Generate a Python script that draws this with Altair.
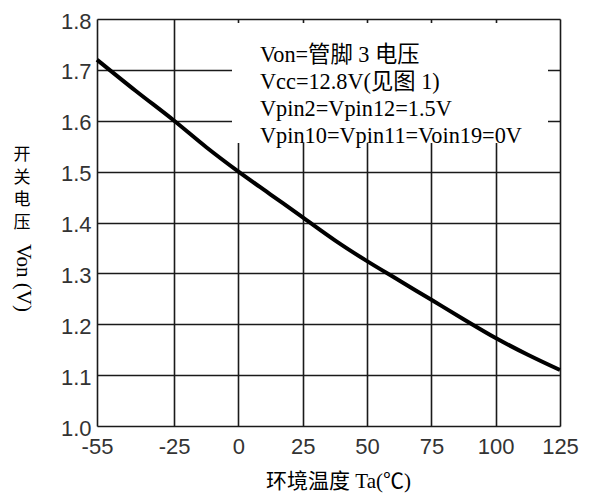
import altair as alt
import pandas as pd

# ---- data ----
temps = [-55, -40, -25, -12.5, 0, 12.5, 25, 37.5, 50, 62.5, 75, 87.5, 100, 112.5, 125]
von = [1.72, 1.659, 1.60, 1.548, 1.50, 1.455, 1.41, 1.365, 1.324, 1.286, 1.248, 1.21, 1.173, 1.14, 1.11]
x_ticks = [-55, -25, 0, 25, 50, 75, 100, 125]
y_ticks = [1.0, 1.1, 1.2, 1.3, 1.4, 1.5, 1.6, 1.7, 1.8]
note_lines = ["Von=管脚 3 电压", "Vcc=12.8V(见图 1)", "Vpin2=Vpin12=1.5V", "Vpin10=Vpin11=Voin19=0V"]
x_title = "环境温度 Ta(℃)"
y_title_cjk = ["开", "关", "电", "压"]
y_title_latin = "Von (V)"

SERIF = "Liberation Serif, 'Noto Sans CJK SC'"
SANS = "Liberation Sans, Arial"

df = pd.DataFrame({"t": temps, "v": von})
one = pd.DataFrame({"k": [0]})

x_enc = alt.X(
    "t:Q",
    scale=alt.Scale(domain=[-55, 125], nice=False, zero=False),
    axis=alt.Axis(
        values=x_ticks, grid=True, gridColor="#1a1a1a", gridWidth=1.6, gridOpacity=1,
        domain=False, ticks=False, labelFont=SANS, labelFontSize=22, labelColor="#333",
        labelPadding=10, labelFlush=False, labelExpr="'' + datum.value",
        title=x_title, titleFont=SERIF, titleFontSize=21, titleFontWeight="normal",
        titleColor="black", titleX=241, titleY=61, titleBaseline="alphabetic", titleAlign="center",
    ),
)
y_enc = alt.Y(
    "v:Q",
    scale=alt.Scale(domain=[1.0, 1.8], nice=False, zero=False),
    axis=alt.Axis(
        values=y_ticks, format=".1f", grid=True, gridColor="#1a1a1a", gridWidth=1.6, gridOpacity=1,
        domain=False, ticks=False, labelFont=SANS, labelFontSize=22, labelColor="#333",
        labelPadding=6, labelFlush=False, labelOffset=2, title=None,
    ),
)

axes_layer = alt.Chart(df).mark_point(opacity=0).encode(x=x_enc, y=y_enc)

mask = alt.Chart(one).mark_rect(fill="white", stroke=None).encode(
    x=alt.value(135), x2=alt.value(451), y=alt.value(4), y2=alt.value(124)
)

curve = alt.Chart(df).mark_line(color="black", strokeWidth=4, interpolate="monotone").encode(
    x="t:Q", y="v:Q"
)

note = alt.Chart(one).mark_text(
    text=note_lines, font=SERIF, fontSize=22.3, color="black", align="left",
    baseline="alphabetic", lineHeight=27.3,
).encode(x=alt.value(163), y=alt.value(42.5))

ytitle_cjk = alt.Chart(one).mark_text(
    text=y_title_cjk, font=SERIF, fontSize=17, color="black", align="center",
    baseline="top", lineHeight=22.5,
).encode(x=alt.value(-75), y=alt.value(128))

ytitle_lat = alt.Chart(one).mark_text(
    text=y_title_latin, font=SERIF, fontSize=21, color="black", align="center",
    baseline="middle", angle=90,
).encode(x=alt.value(-74), y=alt.value(259))

chart = alt.layer(axes_layer, mask, curve, note, ytitle_cjk, ytitle_lat).properties(
    width=463, height=407,
    autosize=alt.AutoSizeParams(type="none"),
    padding={"left": 89, "top": 11, "right": 20, "bottom": 70},
).configure_view(stroke="black", strokeWidth=2).configure(background="white")

chart.save("out.html", embed_options={"renderer": "svg", "actions": False})
